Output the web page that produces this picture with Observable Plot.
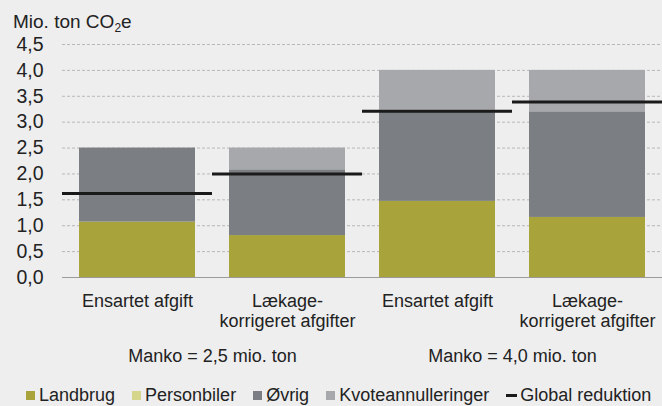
<!DOCTYPE html>
<html>
<head>
<meta charset="utf-8">
<script src="https://cdn.jsdelivr.net/npm/d3@7"></script>
<script src="https://cdn.jsdelivr.net/npm/@observablehq/plot@0.6"></script>
<style>
  html, body { margin: 0; padding: 0; background: #eeeeee; }
  body { width: 662px; height: 406px; position: relative; overflow: hidden; font-family: "Liberation Sans", Arial, sans-serif; color: #222; }
  #title { position: absolute; left: 13px; top: 12px; font-size: 19px; line-height: 19px; }
  #title sub { font-size: 12px; vertical-align: -4px; line-height: 0; }
  #chart { position: absolute; left: 0; top: 0; }
  #legend { position: absolute; left: 26px; top: 384px; display: flex; align-items: center; font-size: 18px; line-height: 22px; white-space: nowrap; }
  .item { display: flex; align-items: center; margin-right: 17px; }
  .item:last-child { margin-right: 0; }
  .sw { width: 9px; height: 9px; margin-right: 4px; }
  .dash { width: 11px; height: 3px; background: #1a1a1a; margin-right: 3px; }
</style>
</head>
<body>
<div id="chart"></div>
<div id="title">Mio. ton CO<sub>2</sub>e</div>
<div id="legend"></div>
<script>
// ---- data ----
const groups = ["Manko = 2,5 mio. ton", "Manko = 4,0 mio. ton"];
const methods = ["Ensartet afgift", "Lækage-\nkorrigeret afgifter"];
const series = ["Landbrug", "Personbiler", "Øvrig", "Kvoteannulleringer"];
const landbrug = [1.07, 0.81, 1.47, 1.16];
const personbiler = [0, 0, 0, 0];
const oevrig = [1.43, 1.27, 1.76, 2.04];
const kvoteannulleringer = [0, 0.42, 0.77, 0.80];
const globalReduktion = [1.62, 2.0, 3.21, 3.39];
const yTicks = [0, 0.5, 1, 1.5, 2, 2.5, 3, 3.5, 4, 4.5];
const lineLabel = "Global reduktion";

const colors = ["#a8a33b", "#d5d68c", "#7b7f83", "#a6a8ab"];
const seriesValues = [landbrug, personbiler, oevrig, kvoteannulleringer];

const rows = [];
const lines = [];
groups.forEach((g, gi) => methods.forEach((m, mi) => {
  const i = gi * 2 + mi;
  series.forEach((s, si) => rows.push({group: g, method: m, series: s, value: seriesValues[si][i]}));
  lines.push({group: g, method: m, value: globalReduktion[i]});
}));

const fmt = d => d3.format(".1f")(d).replace(".", ",");

const chart = Plot.plot({
  width: 662,
  height: 378,
  marginLeft: 61,
  marginRight: 0,
  marginTop: 44,
  marginBottom: 101,
  style: {background: "transparent", fontFamily: '"Liberation Sans", Arial, sans-serif', fontSize: "18px", color: "#222"},
  fx: {domain: groups, paddingInner: 0, paddingOuter: 0, label: null},
  x: {domain: methods, paddingInner: 0.225, paddingOuter: 0.1125, label: null},
  y: {domain: [0, 4.5], label: null},
  color: {domain: series, range: colors},
  marks: [
    Plot.gridY(yTicks, {stroke: "#b8b8b8", strokeOpacity: 1, strokeDasharray: "3,2"}),
    Plot.axisY(yTicks, {tickSize: 0, tickPadding: 19, fontSize: 19.5, tickFormat: fmt, label: null, fill: "#222"}),
    Plot.barY(rows, {fx: "group", x: "method", y: "value", fill: "series"}),
    Plot.ruleY([0], {stroke: "#9a9a9a", strokeWidth: 1.2}),
    Plot.tickY(lines, {fx: "group", x: "method", y: "value", stroke: "#1a1a1a", strokeWidth: 3, insetLeft: -17, insetRight: -17}),
    Plot.axisX({tickSize: 0, tickPadding: 15, fontSize: 18, lineHeight: 1.12, label: null, fill: "#222"}),
    Plot.axisFx({anchor: "bottom", tickSize: 0, tickPadding: 72, fontSize: 18, label: null, fill: "#222"})
  ]
});
document.getElementById("chart").appendChild(chart);

const legend = document.getElementById("legend");
series.forEach((s, i) => {
  const it = document.createElement("div");
  it.className = "item";
  it.innerHTML = `<span class="sw" style="background:${colors[i]}"></span><span>${s}</span>`;
  legend.appendChild(it);
});
const li = document.createElement("div");
li.className = "item";
li.innerHTML = `<span class="dash"></span><span>${lineLabel}</span>`;
legend.appendChild(li);
</script>
</body>
</html>
